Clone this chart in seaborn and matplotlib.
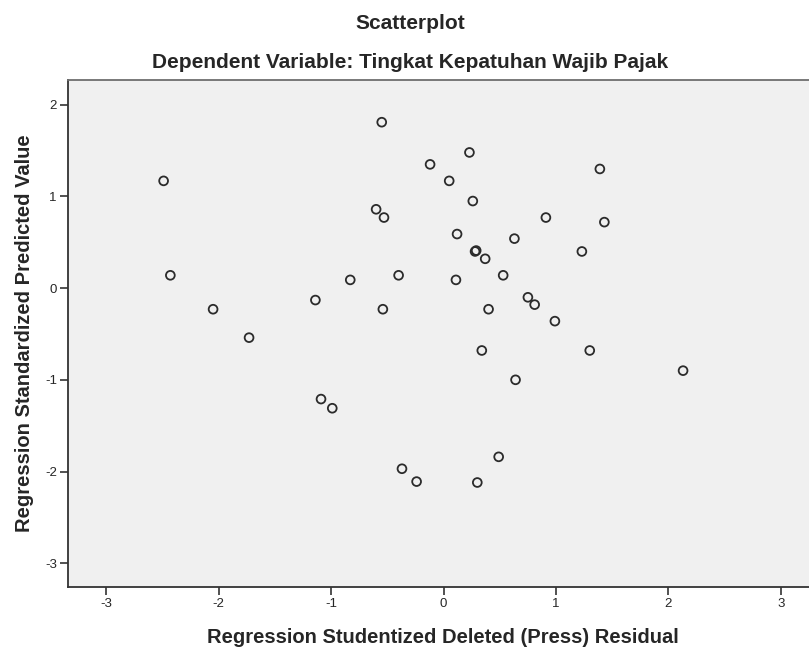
import matplotlib
matplotlib.use("Agg")
import matplotlib.pyplot as plt
import seaborn as sns
import pandas as pd


TITLE = "Scatterplot"
SUBTITLE = "Dependent Variable: Tingkat Kepatuhan Wajib Pajak"
X_LABEL = "Regression Studentized Deleted (Press) Residual"
Y_LABEL = "Regression Standardized Predicted Value"

# studentized deleted residuals
residual = [
    -2.49, -2.43, -2.05, -1.73, -1.14, -1.09, -0.99, -0.83, -0.60, -0.53,
    -0.55, -0.54, -0.40, -0.37, -0.24, -0.12, 0.05, 0.11, 0.12, 0.23,
    0.26, 0.28, 0.29, 0.37, 0.40, 0.34, 0.30, 0.53, 0.49, 0.63,
    0.64, 0.75, 0.81, 0.91, 0.99, 1.23, 1.30, 1.39, 1.43, 2.13,
]

# standardized predicted values
predicted = [
    1.17, 0.14, -0.23, -0.54, -0.13, -1.21, -1.31, 0.09, 0.86, 0.77,
    1.81, -0.23, 0.14, -1.97, -2.11, 1.35, 1.17, 0.09, 0.59, 1.48,
    0.95, 0.40, 0.41, 0.32, -0.23, -0.68, -2.12, 0.14, -1.84, 0.54,
    -1.00, -0.10, -0.18, 0.77, -0.36, 0.40, -0.68, 1.30, 0.72, -0.90,
]

ticks = [-3, -2, -1, 0, 1, 2, 3]


def make_plot():

    df = pd.DataFrame({"resid": residual, "pred": predicted})

    sns.set_style("white")
    plt.rcParams["font.family"] = ["Liberation Sans", "DejaVu Sans"]
    plt.rcParams["axes.unicode_minus"] = False

    fig = plt.figure(figsize=(8.09, 6.49), dpi=100)
    ax = fig.add_axes([0.0841, 0.0955, 0.9159, 0.7812])
    ax.set_facecolor("#f0f0f0")

    sns.scatterplot(data=df, x="resid", y="pred", ax=ax, s=40,
                    facecolor="none", edgecolor="#2b2b2b", linewidth=1.3)

    # ticks first, limits after (set_ticks would widen the view)
    ax.set_xticks(ticks)
    ax.set_yticks(ticks)
    ax.set_xlim(-3.34, 3.25)
    ax.set_ylim(-3.26, 2.27)
    ax.tick_params(axis="both", direction="out", length=6, width=1.2,
                   color="#333333", labelsize=9.5, pad=2,
                   bottom=True, left=True)

    for side in ["left", "bottom"]:
        ax.spines[side].set_color("#333333")
        ax.spines[side].set_linewidth(1.3)
    ax.spines["top"].set_color("#6e6e6e")
    ax.spines["top"].set_linewidth(1.3)
    ax.spines["right"].set_visible(False)

    ax.set_xlabel(X_LABEL, fontsize=14.5, fontweight="bold")
    ax.xaxis.label.set_va("baseline")
    ax.xaxis.set_label_coords(0.506, -0.1105)

    ax.set_ylabel(Y_LABEL, fontsize=14.5, fontweight="bold")
    ax.yaxis.label.set_va("center")
    ax.yaxis.set_label_coords(-0.0594, 0.501)

    fig.text(0.507, 0.9553, TITLE, ha="center", va="baseline",
             fontsize=15, fontweight="bold")
    fig.text(0.507, 0.8952, SUBTITLE, ha="center", va="baseline",
             fontsize=15, fontweight="bold")

    fig.savefig("out.png", dpi=100)
    plt.close(fig)


if __name__ == "__main__":
    make_plot()
